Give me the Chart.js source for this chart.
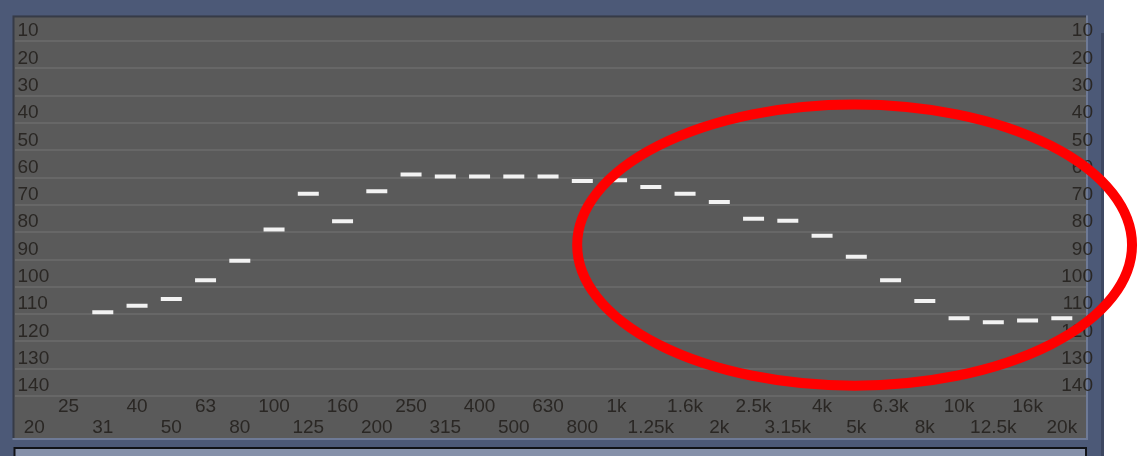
<!DOCTYPE html>
<html>
<head>
<meta charset="utf-8">
<script src="https://cdn.jsdelivr.net/npm/chart.js@4/dist/chart.umd.min.js"></script>
<style>
  html, body { margin: 0; padding: 0; background: #ffffff; }
  canvas { display: block; }
</style>
</head>
<body>
<canvas id="eq" width="1139" height="456"></canvas>
<script>
// Third-octave band centres, 20 Hz .. 20 kHz
const bandLabels = ['20', '25', '31', '40', '50', '63', '80', '100', '125', '160',
  '200', '250', '315', '400', '500', '630', '800', '1k', '1.25k', '1.6k',
  '2k', '2.5k', '3.15k', '4k', '5k', '6.3k', '8k', '10k', '12.5k', '16k', '20k'];

// Band levels (null = no reading for that band)
const bandLevels = [null, null, 109.3, 106.9, 104.5, 97.6, 90.5, 79.0, 65.9, 76.0,
  65.0, 58.9, 59.6, 59.6, 59.6, 59.6, 61.2, 61.0, 63.4, 65.9,
  68.9, 75.1, 75.8, 81.3, 89.0, 97.6, 105.2, 111.5, 113.0, 112.3, 111.5];

// Level scale tick labels
const levelTicks = [10, 20, 30, 40, 50, 60, 70, 80, 90, 100, 110, 120, 130, 140];

// Highlight ring around the upper bands (band index / level units)
const ringCentre = { band: 23.95, level: 84.7 };
const ringRadius = { bands: 8.1, levels: 51.5 };

const points = bandLevels
  .map((v, i) => (v === null ? null : { x: i, y: v }))
  .filter(p => p !== null);

const labelColor = '#2a2724';
const labelFont = { family: '"Liberation Sans", Arial, sans-serif', size: 19, lineHeight: 1.1 };

// Window frame, grey panel and the widget strip below it
const framePlugin = {
  id: 'frame',
  beforeDraw(chart) {
    const { ctx, chartArea } = chart;
    const xs = chart.scales.x;
    const L = chartArea.left, T = chartArea.top, R = chartArea.right, B = xs.bottom;
    ctx.save();
    ctx.fillStyle = '#ffffff';
    ctx.fillRect(0, 0, chart.width, chart.height);
    ctx.fillStyle = '#4c5977';
    ctx.fillRect(0, 0, 1104, chart.height);
    ctx.fillStyle = '#3d4761';
    ctx.fillRect(1101, 33, 3, chart.height - 33);
    // panel with sunken edge
    ctx.fillStyle = '#363b47';
    ctx.fillRect(L - 2, T - 2, R - L + 2, B - T + 2);
    ctx.fillStyle = '#6e7a96';
    ctx.fillRect(L - 2, B, R - L + 4, 2);
    ctx.fillRect(R, T - 2, 2, B - T + 4);
    ctx.fillStyle = '#5a5a5a';
    ctx.fillRect(L, T, R - L, B - T);
    // lower widget
    ctx.fillStyle = '#111318';
    ctx.fillRect(L - 1, B + 9, R - L + 2, chart.height - B - 9);
    ctx.fillStyle = '#8590a9';
    ctx.fillRect(L + 1, B + 11, R - L - 2, chart.height - B - 11);
    ctx.restore();
  }
};

// Red ring drawn through the scales
const ringPlugin = {
  id: 'ring',
  afterDraw(chart) {
    const { ctx } = chart;
    const xs = chart.scales.x, ys = chart.scales.y;
    const cx = xs.getPixelForValue(ringCentre.band);
    const cy = ys.getPixelForValue(ringCentre.level);
    const rx = Math.abs(xs.getPixelForValue(ringCentre.band + ringRadius.bands) - cx);
    const ry = Math.abs(ys.getPixelForValue(ringCentre.level + ringRadius.levels) - cy);
    ctx.save();
    ctx.beginPath();
    ctx.ellipse(cx, cy, rx, ry, 0, 0, Math.PI * 2);
    ctx.strokeStyle = '#ff0000';
    ctx.lineWidth = 10;
    ctx.stroke();
    ctx.restore();
  }
};

const levelAxis = (position, showGrid, pad) => ({
  type: 'linear',
  position,
  reverse: true,
  min: 1.33,
  max: 140,
  afterBuildTicks(axis) { axis.ticks = levelTicks.map(v => ({ value: v })); },
  afterFit(axis) { axis.width = 0; },
  grid: { display: showGrid, color: '#676767', lineWidth: 2, drawTicks: false },
  border: { display: false },
  ticks: {
    mirror: true,
    padding: pad,
    labelOffset: -10,
    color: labelColor,
    font: labelFont
  }
});

new Chart(document.getElementById('eq'), {
  type: 'scatter',
  data: {
    datasets: [{
      data: points,
      pointStyle: 'line',
      pointRadius: 10.5,
      pointHoverRadius: 10.5,
      borderWidth: 4,
      borderColor: '#f2f2f2',
      backgroundColor: '#f2f2f2'
    }]
  },
  options: {
    responsive: false,
    devicePixelRatio: 1,
    animation: false,
    events: [],
    layout: { padding: { left: 14, right: 53, top: 12, bottom: 18 } },
    plugins: { legend: { display: false }, tooltip: { enabled: false } },
    scales: {
      x: {
        type: 'linear',
        min: -0.578,
        max: 30.706,
        afterBuildTicks(axis) { axis.ticks = bandLabels.map((_, i) => ({ value: i })); },
        afterFit(axis) { axis.height = 42; },
        grid: { display: false, drawTicks: false },
        border: { display: false },
        ticks: {
          autoSkip: false,
          maxRotation: 0,
          minRotation: 0,
          padding: 0.5,
          color: labelColor,
          font: labelFont,
          callback(value) {
            const i = Math.round(value);
            return i % 2 === 0 ? ['', bandLabels[i]] : [bandLabels[i], ''];
          }
        }
      },
      y: levelAxis('left', true, 3),
      y2: levelAxis('right', false, 7)
    }
  },
  plugins: [framePlugin, ringPlugin]
});
</script>
</body>
</html>
